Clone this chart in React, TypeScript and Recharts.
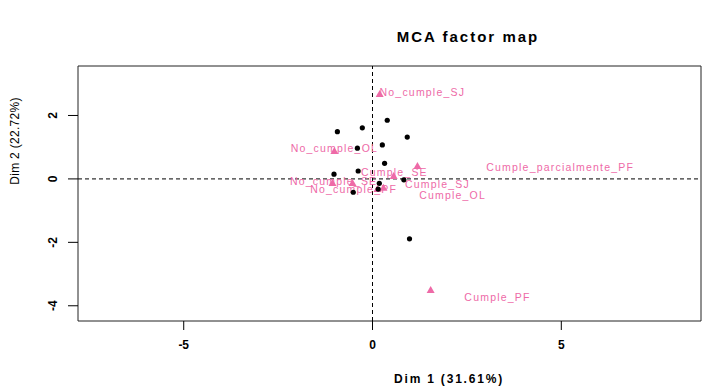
import React from 'react';
import {
    ScatterChart,
    Scatter,
    XAxis,
    YAxis,
    ReferenceLine,
    ReferenceArea,
} from 'recharts';

// individuals (black dots)
const indX = [-0.93, -0.27, 0.39, 0.92, 0.26, -0.4, 0.32, -1.02, -0.38, 0.83, 0.18, 0.15, -0.51, 0.98];
const indY = [1.49, 1.61, 1.85, 1.32, 1.07, 0.97, 0.49, 0.15, 0.25, -0.03, -0.14, -0.32, -0.42, -1.89];

// categories (pink triangles)
const catNames = [
    'No_cumple_SJ',
    'No_cumple_OL',
    'Cumple_parcialmente_PF',
    'Cumple_SE',
    'No_cumple_SE',
    'No_cumple_PF',
    'Cumple_SJ',
    'Cumple_OL',
    'Cumple_PF',
];
const catX = [0.19, -1.01, 1.19, 0.56, -1.06, -0.53, 0.29, 0.13, 1.54];
const catY = [2.68, 0.88, 0.41, 0.09, -0.13, -0.13, -0.28, -0.32, -3.5];
// where the (repelled) labels ended up
const labX = [1.32, -1.01, 4.97, 0.58, -1.03, -0.5, 1.72, 2.12, 3.31];
const labY = [2.74, 0.98, 0.38, 0.22, -0.06, -0.32, -0.16, -0.5, -3.72];

const xTicks = [-5, 0, 5];
const yTicks = [-4, -2, 0, 2];
const xDomain = [-7.8, 8.7];
const yDomain = [-4.48, 3.56];

const PINK = '#EE6AA7';
const FONT = '"Liberation Sans", Arial, sans-serif';

const individuals = indX.map((x, i) => ({ x, y: indY[i] }));
const categories = catX.map((x, i) => ({ x, y: catY[i], name: catNames[i] }));
const catLabels = labX.map((x, i) => ({ x, y: labY[i], name: catNames[i] }));

// eslint-disable-next-line @typescript-eslint/no-explicit-any
const Dot = (props: any) => <circle cx={props.cx} cy={props.cy} r={2.6} fill="#000" />;

// eslint-disable-next-line @typescript-eslint/no-explicit-any
const Triangle = (props: any) => {
    const { cx, cy } = props;
    return (
        <path
            d={`M${cx},${cy - 4} L${cx + 4},${cy + 3} L${cx - 4},${cy + 3} Z`}
            fill={PINK}
        />
    );
};

// eslint-disable-next-line @typescript-eslint/no-explicit-any
const CatLabel = (props: any) => (
    <text
        x={props.cx}
        y={props.cy}
        textAnchor="middle"
        dominantBaseline="central"
        fill={PINK}
        fontSize={10.5}
        letterSpacing={1.2}
        fontFamily={FONT}
    >
        {props.payload.name}
    </text>
);

// eslint-disable-next-line @typescript-eslint/no-explicit-any
const YTick = (props: any) => {
    const { x, y, payload } = props;
    const bx = x - 9;
    return (
        <text
            x={bx}
            y={y}
            transform={`rotate(-90 ${bx} ${y})`}
            textAnchor="middle"
            fontWeight="bold"
            fontSize={12}
            fontFamily={FONT}
            fill="#000"
        >
            {payload.value}
        </text>
    );
};

export default function App() {
    return (
        <div style={{ position: 'relative', width: 713, height: 390, background: '#fff' }}>
            <style>{'body{margin:0}'}</style>
            <ScatterChart
                width={713}
                height={390}
                margin={{ top: 66, right: 12, bottom: 0, left: 0 }}
            >
                <XAxis
                    type="number"
                    dataKey="x"
                    domain={xDomain}
                    ticks={xTicks}
                    allowDataOverflow
                    height={69}
                    axisLine={false}
                    tickSize={9}
                    tickMargin={10}
                    tickLine={{ stroke: '#000' }}
                    tick={{ fontSize: 12, fontWeight: 'bold', fill: '#000', fontFamily: FONT }}
                />
                <YAxis
                    type="number"
                    dataKey="y"
                    domain={yDomain}
                    ticks={yTicks}
                    allowDataOverflow
                    width={78}
                    axisLine={false}
                    tickSize={10}
                    tickMargin={2}
                    tickLine={{ stroke: '#000' }}
                    tick={<YTick />}
                />
                <ReferenceArea
                    x1={xDomain[0]}
                    x2={xDomain[1]}
                    y1={yDomain[0]}
                    y2={yDomain[1]}
                    fill="none"
                    fillOpacity={0}
                    stroke="#222"
                    strokeWidth={1}
                />
                <ReferenceLine x={0} stroke="#000" strokeDasharray="4 3" />
                <ReferenceLine y={0} stroke="#000" strokeDasharray="4 3" />
                <Scatter data={categories} shape={<Triangle />} isAnimationActive={false} />
                <Scatter data={catLabels} shape={<CatLabel />} isAnimationActive={false} />
                <Scatter data={individuals} shape={<Dot />} isAnimationActive={false} />
            </ScatterChart>
            <svg
                width={713}
                height={390}
                style={{ position: 'absolute', left: 0, top: 0, pointerEvents: 'none' }}
            >
                <text
                    x={468}
                    y={36}
                    textAnchor="middle"
                    dominantBaseline="central"
                    fontSize={15}
                    fontWeight="bold"
                    letterSpacing={2}
                    fontFamily={FONT}
                >
                    MCA factor map
                </text>
                <text
                    x={449}
                    y={379}
                    textAnchor="middle"
                    dominantBaseline="central"
                    fontSize={12}
                    fontWeight="bold"
                    letterSpacing={1.8}
                    fontFamily={FONT}
                >
                    Dim 1 (31.61%)
                </text>
                <text
                    x={15}
                    y={141}
                    transform="rotate(-90 15 141)"
                    textAnchor="middle"
                    dominantBaseline="central"
                    fontSize={12}
                    letterSpacing={0.3}
                    fontFamily={FONT}
                >
                    Dim 2 (22.72%)
                </text>
            </svg>
        </div>
    );
}
